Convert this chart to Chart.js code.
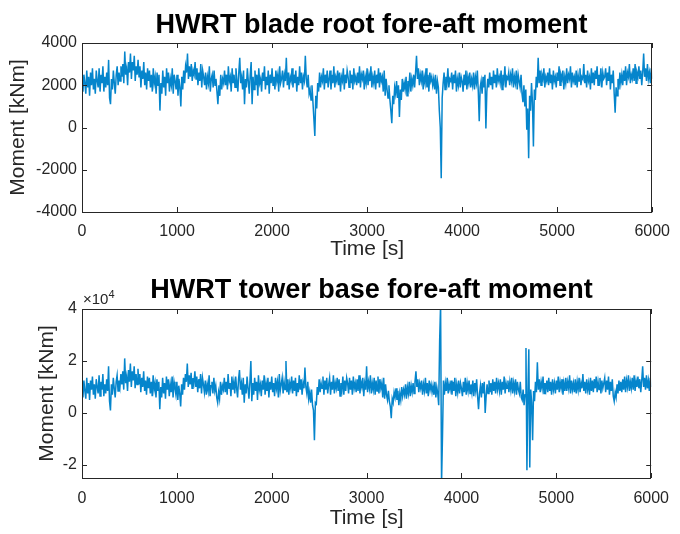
<!DOCTYPE html>
<html>
<head>
<meta charset="utf-8">
<script src="https://cdn.jsdelivr.net/npm/chart.js@4/dist/chart.umd.min.js"></script>
<style>
  body { margin:0; background:#fff; }
  #wrap { position:relative; width:680px; height:534px; font-family:"Liberation Sans", Arial, Helvetica, sans-serif; }
  canvas { position:absolute; left:0; }
  .ttl { position:absolute; left:82px; width:579px; text-align:center; font-weight:bold; font-size:27px; color:#000; line-height:30px; }
  #exp { position:absolute; left:83px; top:291px; font-size:15px; line-height:16px; color:#262626; }
  #exp sup { font-size:11px; vertical-align:6px; line-height:0; }
</style>
</head>
<body>
<div id="wrap">
  <canvas id="top" width="680" height="270" style="top:0"></canvas>
  <canvas id="bot" width="680" height="264" style="top:270px"></canvas>
  <div class="ttl" style="top:9px">HWRT blade root fore-aft moment</div>
  <div class="ttl" style="top:274px">HWRT tower base fore-aft moment</div>
  <div id="exp">&times;10<sup>4</sup></div>
</div>
<script>
// sample spacing of the records [s]
const dt = 10;

// blade root fore-aft moment [kNm], one value every 10 s from 0 to 6000 s
const bladeRoot = [
  2300,1700,2500,2100,1600,2700,1900,2400,1500,2600,
  2000,2800,1800,2300,1600,2700,2200,1900,2800,1700,
  2500,2100,2900,1700,2400,1900,2600,2000,3200,1400,
  1100,2300,1800,2700,2100,1600,2500,2900,2000,2600,
  2200,2900,2400,3000,2100,3600,2500,2800,2000,3100,
  2600,3500,2300,3100,2700,3400,2200,2900,2500,3200,
  2400,2900,1900,2700,2300,3100,2000,2600,1800,2800,
  2200,2700,1900,2500,1700,2800,2100,2400,1600,2600,
  2000,2500,800,2100,1600,2700,1900,2400,1500,2800,
  2100,2600,1700,2300,2000,2800,1600,2500,2200,1800,
  2500,1500,2300,1900,1000,2400,1800,2700,2100,2900,
  2600,3500,2300,2900,2400,3000,2200,2700,2500,3100,
  2300,2800,2000,2600,2200,3000,1900,2700,2400,2000,
  2600,1800,2400,2100,2900,1700,2300,2500,1900,2700,
  2000,2300,1700,1100,2000,1500,2500,1800,2300,2100,
  2700,2000,2500,1800,2900,2200,2400,1700,2800,2100,
  2500,1900,2800,2200,1700,2600,3300,2100,2400,1800,
  2700,1100,2300,1900,2800,2200,1600,2500,3100,1100,
  2400,1800,2700,2000,2500,1500,2800,2100,2300,1700,
  2600,2200,2900,1800,2400,2000,2700,1600,2500,2100,
  2800,2000,2400,1800,2700,2200,2500,1700,2900,2100,
  2300,2700,1900,2500,2200,3300,2000,2600,1800,2400,
  2200,2800,1900,2500,2100,2700,1700,2400,2000,2900,
  2100,2600,1800,2400,2200,3400,2300,1900,2500,1600,
  1800,1300,2000,1200,400,-400,1500,900,2100,1700,
  2600,1900,2400,2200,2800,1800,2500,2100,2700,1900,
  2300,2700,1800,2500,2100,2900,1900,2400,2200,2700,
  2000,2600,1700,2400,2200,2800,1800,2500,2100,2700,
  2400,1900,2700,2100,2500,1800,2800,2200,2400,2000,
  2600,2100,2900,1900,2500,2300,2700,1800,2400,2100,
  2800,2000,2500,2200,2900,1900,2400,2100,2700,1800,
  2500,2100,2800,1900,2600,2200,2400,1700,2700,1500,
  2300,1800,1400,2000,1300,800,200,1500,1100,1900,
  1600,2200,1400,2000,500,1800,1300,2300,1700,2100,
  1800,2400,1500,2200,1900,2600,1700,2300,2000,2500,
  1900,2600,3400,2300,2800,2000,2500,2200,2700,1800,
  2400,2100,2800,1900,2500,1700,2600,2200,2400,2000,
  2300,1800,2500,1600,2200,1900,800,0,-2400,1400,
  2100,2600,1800,2400,2100,2800,1900,2300,2200,2600,
  1800,2500,2100,2700,1700,2300,2000,2600,1900,2400,
  2200,1700,2500,2000,2700,1800,2400,2100,2600,1900,
  2300,2000,2600,1800,2400,2100,2700,1700,300,1900,
  2200,1600,2400,1900,2500,-50,1700,2300,1900,2600,
  2000,2400,1800,2700,2100,2500,1900,2800,2200,2400,
  2100,2700,1800,2500,2200,2900,1900,2400,2300,2600,
  2000,2500,2200,2800,1900,2400,2100,2700,1800,2500,
  2200,1900,2500,1600,1200,2000,1000,1800,-100,900,
  -1450,1500,800,2100,1200,-900,1800,1300,2400,1900,
  3300,2100,2700,2000,2500,2300,2800,1900,2400,2200,
  2600,2000,2800,2100,2500,1800,2700,2200,2400,1900,
  2600,2200,2900,2000,2500,2300,2700,1800,2400,2100,
  2800,2100,2500,2300,2900,1900,2600,2200,2400,2000,
  2700,1900,2500,2200,2800,2000,2400,2300,3000,2100,
  2500,1900,2700,2200,2400,1800,2800,2100,2600,2000,
  2700,2300,2900,2000,2500,2200,2800,1900,2600,2300,
  2400,2800,2000,2600,2200,2900,1800,2500,2100,2700,
  1600,700,1900,1500,2300,1800,2600,2100,2500,2000,
  2700,2200,2900,2000,2600,2400,3000,2100,2500,2300,
  2800,2200,3000,2100,2600,2400,2900,2300,2700,2000,
  2600,3500,2400,2800,2200,3000,2300,2600,2100,2800,
  2300
];

// tower base fore-aft moment [kNm], same time stamps
const towerBase = [
  10000,6000,12500,8500,5500,13500,7500,11500,5000,12500,
  9000,14000,7000,11000,5500,13000,10000,7500,14500,6500,
  12000,9000,15000,6500,11000,7500,13000,8500,18000,4500,
  1000,11000,7000,13500,9500,6000,12000,14500,8500,12500,
  10000,15000,11000,16000,9000,21000,11500,14000,8500,16500,
  12000,19000,10000,16000,12500,18000,9500,15000,11000,17000,
  11000,15000,8000,13500,10000,16000,8500,12500,7000,14000,
  9500,13500,7500,12000,6500,14500,9000,11500,6000,13000,
  8500,12000,1500,10000,6000,13500,7500,11500,5500,14000,
  9000,13000,6500,11000,8000,14000,6000,12000,9500,7000,
  12000,5000,10500,7500,2500,11000,7000,13500,9000,15000,
  12000,19000,10000,14500,11000,15500,9500,13500,11500,16000,
  10000,14000,8000,13000,9500,15000,7500,13500,11000,8000,
  12500,7000,11000,8500,14500,6500,10500,12000,7500,13500,
  8500,10500,6000,4000,8000,5500,12000,7000,10500,9000,
  13500,8000,12000,7000,15000,9500,11500,6500,14000,9000,
  12000,7500,14000,9500,6000,13000,16500,9000,11500,7000,
  13500,4000,11000,7500,14000,9500,5500,12000,20000,4500,
  11500,7000,13500,8500,12000,5000,14500,9000,11000,6500,
  12500,9000,14500,7000,11500,8500,13500,6000,12000,9000,
  14000,8000,11500,6500,13500,9500,12000,6000,15000,8500,
  11000,13500,7500,12000,9000,20000,8000,13000,7000,11500,
  9500,14000,7500,12500,8500,13500,6500,11500,8000,14500,
  9000,13000,7000,11500,9500,17500,10000,7500,12000,5500,
  8000,4000,9000,3000,1000,-10500,4000,3500,10000,7000,
  13000,8000,11500,9500,14000,7000,12500,9000,13500,7500,
  11000,13500,7000,12000,9000,14500,7500,11500,9500,13500,
  8500,13000,6500,11500,9000,14000,7000,12500,8500,13500,
  11500,7500,13500,9000,12500,7000,14000,9500,11500,8000,
  13000,8500,14500,7500,12000,10000,13500,6500,11500,9000,
  18000,8000,12000,9500,14500,7500,11500,9000,13500,7000,
  12500,8500,14000,7500,13000,9500,11500,6000,13500,5500,
  11000,7000,5000,8500,4500,2500,-2000,5500,4000,8000,
  6000,9500,5000,8500,3000,7500,5000,10000,6500,9000,
  7000,11000,5500,10000,7500,12000,6500,10500,8000,11500,
  7500,12000,16000,10000,13000,8000,11500,9500,12500,7000,
  11000,8500,13500,7500,11500,6500,12500,9000,11000,8000,
  10500,7000,12000,6000,10000,7500,3000,28000,42000,-27000,
  -9000,12500,7000,11500,8500,13500,7500,11000,9000,12500,
  7000,12000,8500,13500,6500,11000,8000,12500,7500,11500,
  9500,6500,12000,8000,13500,7000,11500,8500,12500,7500,
  11000,8000,12500,6500,11500,8500,13000,6500,1500,7500,
  10500,6000,11500,7500,12000,0,6500,11000,7500,12500,
  8000,11500,7000,13000,8500,12000,7500,13500,9000,11500,
  8500,13000,7000,12000,9000,14000,7500,11500,9500,12500,
  8000,12000,9000,13500,7500,11500,8500,13000,7000,12000,
  9000,7500,12000,6000,5000,9000,3000,7000,25000,-22000,
  8000,24500,-21000,9000,4000,-10500,8500,4500,12000,8000,
  19500,9000,13000,8000,12000,9500,14000,7500,11500,9000,
  12500,8000,13500,8500,12000,7000,13000,9000,11500,7500,
  12500,9000,14000,8000,12000,9500,13000,7000,11500,8500,
  13500,8500,12000,9500,14500,7500,12500,9000,11500,8000,
  13000,7500,12000,9000,13500,8000,11500,9500,15000,8500,
  12000,7500,13000,9000,11500,7000,13500,8500,12500,8000,
  13000,9500,14000,8000,12000,9000,13500,7500,12500,9500,
  11500,13500,8000,12500,9000,14000,7000,12000,8500,13000,
  6500,4500,8000,6000,11000,7500,12500,8500,12000,8000,
  13000,9000,14000,8000,12500,10000,14500,8500,12000,9500,
  13500,9000,14500,8500,12500,10000,14000,9500,13000,8000,
  12500,18000,10000,13500,9000,14500,9500,12500,8500,13500,
  10000
];

// tick values
const timeTicks = [0,1000,2000,3000,4000,5000,6000];
const bladeTicks = [-4000,-2000,0,2000,4000];
const towerTicks = [-20000,0,20000,40000];

const FONT = '"Liberation Sans", Arial, Helvetica, sans-serif';
const INK = '#262626';

// MATLAB style box with inward ticks on all four sides
const boxTicks = {
  id: 'boxTicks',
  afterDraw(chart){
    const {ctx, chartArea:a, scales:{x, y}} = chart;
    ctx.save();
    ctx.strokeStyle = INK;
    ctx.lineWidth = 1;
    ctx.beginPath();
    x.ticks.forEach(t => {
      const px = Math.round(x.getPixelForValue(t.value)) + 0.5;
      ctx.moveTo(px, a.bottom); ctx.lineTo(px, a.bottom - 5);
      ctx.moveTo(px, a.top); ctx.lineTo(px, a.top + 5);
    });
    y.ticks.forEach(t => {
      const py = Math.round(y.getPixelForValue(t.value)) + 0.5;
      ctx.moveTo(a.left, py); ctx.lineTo(a.left + 5, py);
      ctx.moveTo(a.right, py); ctx.lineTo(a.right - 5, py);
    });
    ctx.stroke();
    ctx.strokeRect(Math.round(a.left) + 0.5, Math.round(a.top) + 0.5,
                   Math.round(a.width) - 1, Math.round(a.height));
    ctx.restore();
  }
};

function makeChart(id, values, yTicks, yMin, yMax, opt){
  const pts = values.map((v, i) => ({x: i * dt, y: v}));
  return new Chart(document.getElementById(id), {
    type: 'line',
    data: { datasets: [{
      data: pts,
      borderColor: '#0585CC',
      borderWidth: 1.5,
      pointRadius: 0,
      tension: 0
    }]},
    options: {
      responsive: false,
      animation: false,
      events: [],
      layout: { autoPadding: false, padding: { left: 0, right: 19, top: opt.top, bottom: 0 } },
      plugins: { legend: { display: false }, tooltip: { enabled: false } },
      scales: {
        x: {
          type: 'linear', min: 0, max: 6000,
          grid: { display: false, drawTicks: false }, border: { display: false },
          afterBuildTicks: s => { s.ticks = timeTicks.map(v => ({value: v})); },
          afterFit: s => { s.height = opt.xh; },
          ticks: { color: INK, font: { family: FONT, size: 16 }, padding: opt.xpad, maxRotation: 0,
                   callback: v => String(v) },
          title: { display: true, text: 'Time [s]', color: INK,
                   font: { family: FONT, size: 21 }, padding: { top: 0, bottom: opt.xtb } }
        },
        y: {
          type: 'linear', min: yMin, max: yMax,
          grid: { display: false, drawTicks: false }, border: { display: false },
          afterBuildTicks: s => { s.ticks = yTicks.map(v => ({value: v})); },
          afterFit: s => { s.width = 82; },
          ticks: { color: INK, font: { family: FONT, size: 16 }, padding: 5,
                   callback: v => opt.scale ? String(v / opt.scale) : String(v) },
          title: { display: true, text: 'Moment [kNm]', color: INK,
                   font: { family: FONT, size: 21 }, padding: { top: opt.ytp, bottom: 0 } }
        }
      }
    },
    plugins: [boxTicks]
  });
}

makeChart('top', bladeRoot, bladeTicks, -4000, 4000,
  { top: 43, xh: 58, xpad: 10, xtb: 8, ytp: 6, scale: 0 });
makeChart('bot', towerBase, towerTicks, -25000, 40000,
  { top: 39, xh: 56, xpad: 11, xtb: 3, ytp: 35, scale: 10000 });
</script>
</body>
</html>
